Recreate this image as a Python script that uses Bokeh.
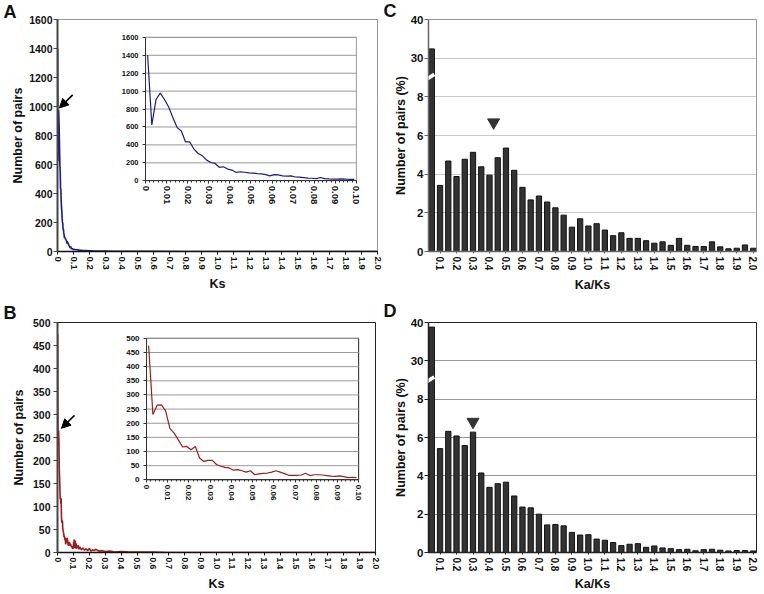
from bokeh.plotting import figure
from bokeh.models import (Range1d, LinearAxis, FixedTicker, NumeralTickFormatter,
                          Arrow, NormalHead, Title)
from bokeh.layouts import column, row
from bokeh.embed import file_html
from bokeh.resources import INLINE

FONT = "Liberation Sans"

# ---------------- data ----------------
# Ks bins (0.002 wide, bin centres) shown in the insets and the start of the main curves
ks_bin_centers = [round(0.001 + 0.002 * i, 3) for i in range(50)]

ksA_counts = [1400, 622, 907, 978, 907, 822, 704, 593, 556, 433,
              433, 352, 304, 278, 230, 204, 193, 150, 156, 130,
              119, 93, 100, 95, 88, 85, 80, 76, 68, 55,
              68, 66, 55, 52, 55, 42, 40, 35, 30, 28,
              24, 36, 24, 20, 18, 19, 20, 17, 15, 15]
ksA_tail_x = [0.11, 0.12, 0.13, 0.14, 0.15, 0.16, 0.18, 0.2, 0.22, 0.25,
              0.3, 0.35, 0.4, 0.5, 0.6, 0.8, 1.0, 1.5, 2.0]
ksA_tail_y = [14, 12, 11, 9, 8, 7, 6, 5, 4, 3,
              3, 2, 2, 1, 1, 0, 0, 0, 0]

ksB_counts = [474, 231, 264, 265, 244, 182, 165, 141, 116, 118,
              106, 118, 77, 65, 69, 69, 54, 48, 44, 42,
              34, 36, 32, 27, 32, 18, 21, 23, 24, 27,
              32, 27, 22, 16, 16, 16, 17, 23, 15, 18,
              18, 17, 15, 13, 12, 14, 11, 8, 9, 8]
ksB_tail_x = [0.101, 0.103, 0.105, 0.107, 0.109, 0.111, 0.113, 0.115, 0.117, 0.119,
              0.121, 0.125, 0.13, 0.135, 0.14, 0.145, 0.15, 0.16, 0.17, 0.18,
              0.19, 0.2, 0.21, 0.22, 0.23, 0.24, 0.26, 0.28, 0.3, 0.33,
              0.36, 0.4, 0.45, 0.5, 0.6, 0.7, 0.8, 1.0, 1.5, 2.0]
ksB_tail_y = [22, 10, 28, 12, 18, 26, 9, 15, 20, 8,
              14, 10, 16, 7, 12, 9, 6, 10, 5, 8,
              4, 9, 3, 6, 4, 7, 3, 4, 2, 3,
              1, 2, 1, 1, 1, 0, 0, 0, 0, 0]

ks_ticks = [0, 0.1, 0.2, 0.3, 0.4, 0.5, 0.6, 0.7, 0.8, 0.9, 1.0,
            1.1, 1.2, 1.3, 1.4, 1.5, 1.6, 1.7, 1.8, 1.9, 2.0]
ks_inset_ticks = [0, 0.01, 0.02, 0.03, 0.04, 0.05, 0.06, 0.07, 0.08, 0.09, 0.1]
ks_inset_minor = [round(0.002 * i, 3) for i in range(51)]
countA_ticks = [0, 200, 400, 600, 800, 1000, 1200, 1400, 1600]
countB_ticks = [0, 50, 100, 150, 200, 250, 300, 350, 400, 450, 500]

# arrows (Ks, count): tail -> tip
arrowA = {"tail": (0.095, 1080), "tip": (0.012, 990)}
arrowB = {"tail": (0.107, 298), "tip": (0.025, 270)}

# Ka/Ks histograms, bins of 0.05
kaks_bins = [round(0.05 * (i + 1), 2) for i in range(40)]
kaksC_pct = [32.4, 3.42, 4.68, 3.88, 4.77, 5.13, 4.38, 3.95, 4.85, 5.35,
             4.2, 3.32, 2.67, 2.87, 2.56, 2.26, 1.88, 1.26, 1.69, 1.32,
             1.44, 1.11, 0.82, 0.97, 0.68, 0.68, 0.56, 0.43, 0.5, 0.32,
             0.68, 0.32, 0.26, 0.26, 0.5, 0.24, 0.14, 0.17, 0.34, 0.17]
kaksD_pct = [38.8, 5.42, 6.32, 6.08, 5.58, 6.28, 4.15, 3.4, 3.59, 3.67,
             2.95, 2.37, 2.33, 2.0, 1.44, 1.46, 1.39, 1.05, 0.91, 0.93,
             0.7, 0.64, 0.52, 0.36, 0.43, 0.46, 0.27, 0.34, 0.24, 0.2,
             0.15, 0.17, 0.09, 0.15, 0.17, 0.12, 0.08, 0.1, 0.1, 0.08]
kaks_ticks = [0.1, 0.2, 0.3, 0.4, 0.5, 0.6, 0.7, 0.8, 0.9, 1.0,
              1.1, 1.2, 1.3, 1.4, 1.5, 1.6, 1.7, 1.8, 1.9, 2.0]
pct_ticks = [0, 2, 4, 6, 8, 30, 40]
kaksC_mark = (0.425, 6.68)
kaksD_mark = (0.30, 6.82)


# ---------------- helpers ----------------
def brk(v):
    """broken y axis: 0..8 linear (2 per step), then 30, 40 (10 per step)"""
    return v / 2.0 if v <= 8 else 5 + (v - 30) / 10.0


def frac_range(lo, hi, f0, f1):
    span = (hi - lo) / (f1 - f0)
    start = lo - f0 * span
    return Range1d(start, start + span)


def style_axis(ax, color, width, tick_size, label_size="12.5px", tick_out=4,
               label_standoff=2, axis_standoff=3):
    ax.axis_line_color = color
    ax.axis_line_width = width
    ax.major_tick_line_color = color
    ax.major_tick_out = tick_out
    ax.major_tick_in = 0
    ax.minor_tick_line_color = None
    ax.major_label_text_font = FONT
    ax.major_label_text_font_style = "bold"
    ax.major_label_text_font_size = tick_size
    ax.major_label_text_color = "#111111"
    ax.axis_label_text_font = FONT
    ax.axis_label_text_font_style = "bold"
    ax.axis_label_text_font_size = label_size
    ax.axis_label_text_color = "#111111"
    ax.major_label_standoff = label_standoff
    ax.axis_label_standoff = axis_standoff


def panel_title(p, letter, dx, standoff):
    t = p.title
    t.text = letter
    t.align = "left"
    t.offset = dx
    t.standoff = standoff
    t.text_font = FONT
    t.text_font_style = "bold"
    t.text_font_size = "18px"
    t.text_color = "#111111"


def x_title(p, text, standoff):
    p.add_layout(Title(text=text, align="center", standoff=standoff, text_font=FONT,
                       text_font_style="bold", text_font_size="12.5px",
                       text_color="#111111"), "below")


def base(width, height, xr, yr, borders, outline):
    p = figure(width=width, height=height, x_range=xr, y_range=yr,
               output_backend="svg", toolbar_location=None,
               min_border_left=borders[0], min_border_right=borders[1],
               min_border_top=borders[2], min_border_bottom=borders[3])
    p.background_fill_color = "white"
    p.border_fill_color = "white"
    p.outline_line_color = outline
    p.outline_line_width = 1
    return p


def ks_panel(letter, counts, tail_x, tail_y, yticks, color, outline, width, height,
             borders, box, arrow, fonts, stand, title_pos):
    ymax = yticks[-1]
    p = base(width, height, Range1d(0, 2.0), Range1d(0, ymax), borders, outline)
    p.grid.visible = False
    xa, ya = p.xaxis[0], p.yaxis[0]
    style_axis(xa, "#111111", 1.5, fonts["x"], tick_out=3, label_standoff=2)
    style_axis(ya, "#444444", 2, fonts["y"], tick_out=4, label_standoff=stand["yl"],
               axis_standoff=stand["y"])
    xa.ticker = FixedTicker(ticks=ks_ticks)
    xa.formatter = NumeralTickFormatter(format="0.0")
    xa.major_label_overrides = {0: "0"}
    xa.major_label_orientation = "vertical"
    ya.ticker = FixedTicker(ticks=yticks)
    ya.axis_label = "Number of pairs"

    p.line(ks_bin_centers + tail_x, counts + tail_y, line_color=color, line_width=1.6)

    # inset drawn on extra ranges placed inside the frame
    p.extra_x_ranges = {"ix": frac_range(0, ks_inset_ticks[-1], box[0], box[1])}
    p.extra_y_ranges = {"iy": frac_range(0, ymax, box[2], box[3])}
    p.quad(left=[ks_inset_ticks[0]], right=[ks_inset_ticks[-1]], bottom=[0], top=[ymax],
           x_range_name="ix", y_range_name="iy",
           fill_color="white", line_color=outline, line_width=1)
    g = yticks[1:]
    p.segment(x0=[ks_inset_ticks[0]] * len(g), x1=[ks_inset_ticks[-1]] * len(g), y0=g, y1=g,
              x_range_name="ix", y_range_name="iy", line_color="#9a9a9a", line_width=1)
    p.line(ks_bin_centers, counts, x_range_name="ix", y_range_name="iy",
           line_color=color, line_width=1.2)

    ix = LinearAxis(x_range_name="ix", y_range_name="iy", fixed_location=0,
                    bounds=(ks_inset_ticks[0], ks_inset_ticks[-1]),
                    ticker=FixedTicker(ticks=ks_inset_ticks, minor_ticks=ks_inset_minor),
                    formatter=NumeralTickFormatter(format="0.00"))
    style_axis(ix, "#333333", 1, fonts["ix"], tick_out=3, label_standoff=2)
    ix.major_label_overrides = {0: "0"}
    ix.major_label_orientation = "vertical"
    ix.minor_tick_line_color = "#333333"
    ix.minor_tick_out = 2
    ix.minor_tick_in = 0
    p.add_layout(ix, "below")
    iy = LinearAxis(x_range_name="ix", y_range_name="iy", fixed_location=0,
                    bounds=(0, ymax), ticker=FixedTicker(ticks=yticks))
    style_axis(iy, "#333333", 1, fonts["iy"], tick_out=3, label_standoff=4)
    p.add_layout(iy, "left")

    p.add_layout(Arrow(end=NormalHead(size=9, fill_color="black", line_color="black"),
                       x_start=arrow["tail"][0], y_start=arrow["tail"][1],
                       x_end=arrow["tip"][0], y_end=arrow["tip"][1],
                       line_color="black", line_width=1.6))
    x_title(p, "Ks", stand["x"])
    panel_title(p, letter, title_pos[0], title_pos[1])
    return p


def kaks_panel(letter, pct, mark, outline, axis_col, grid_col, width, height, borders,
               stand, title_pos):
    xr = Range1d(0.03, 2.02)
    p = base(width, height, xr, Range1d(0, brk(pct_ticks[-1])), borders, outline)
    p.xgrid.visible = False
    p.ygrid.ticker = FixedTicker(ticks=[brk(v) for v in pct_ticks])
    p.ygrid.grid_line_color = grid_col
    p.ygrid.grid_line_width = 1.2
    xa, ya = p.xaxis[0], p.yaxis[0]
    style_axis(xa, axis_col, 1.5, "10px", tick_out=2, label_standoff=3)
    style_axis(ya, axis_col, 1.5, "11.5px", tick_out=4, label_standoff=1, axis_standoff=0)
    xa.ticker = FixedTicker(ticks=kaks_ticks)
    xa.formatter = NumeralTickFormatter(format="0.0")
    xa.major_label_orientation = "vertical"
    ya.ticker = FixedTicker(ticks=[brk(v) for v in pct_ticks])
    ya.major_label_overrides = {brk(v): str(v) for v in pct_ticks}
    ya.axis_label = "Number of pairs (%)"

    p.vbar(x=kaks_bins, top=[brk(v) for v in pct], width=0.032,
           fill_color="#333333", line_color="#111111", line_width=1)
    p.scatter(x=[mark[0]], y=[brk(mark[1])], marker="inverted_triangle", size=12,
              fill_color="#333333", line_color="#333333")

    # axis-break mark between 8 and 30 (placed in the left side panel so it is not clipped)
    yb = (brk(8) + brk(30)) / 2.0
    x0, x1 = xr.start - 0.025, xr.start + 0.035
    for dy, col, lw in [(0, "white", 4), (-0.07, "#444444", 1), (0.07, "#444444", 1)]:
        p.add_layout(Arrow(end=None, x_start=x0, y_start=yb + dy - 0.08,
                           x_end=x1, y_end=yb + dy + 0.08,
                           line_color=col, line_width=lw), "left")
    x_title(p, "Ka/Ks", stand)
    panel_title(p, letter, title_pos[0], title_pos[1])
    return p


pA = ks_panel("A", ksA_counts, ksA_tail_x, ksA_tail_y, countA_ticks, "#1c1c80", "#999999",
              384, 296, (57, 7, 18, 45), (0.275, 0.934, 0.305, 0.923), arrowA,
              {"x": "9.5px", "y": "10.5px", "ix": "9.5px", "iy": "7.5px"},
              {"x": 4, "y": 1, "yl": 1}, (-54, -4))
pB = ks_panel("B", ksB_counts, ksB_tail_x, ksB_tail_y, countB_ticks, "#9c1c1c", "#222222",
              384, 297, (57, 9, 25, 41), (0.28, 0.947, 0.316, 0.931), arrowB,
              {"x": "8.5px", "y": "10.5px", "ix": "8px", "iy": "8px"},
              {"x": 5, "y": 4, "yl": 3}, (-54, 0))
pC = kaks_panel("C", kaksC_pct, kaksC_mark, "#999999", "#666666", "#c8c8c8",
                378, 296, (44, 6, 19, 43), 4, (-45, -3))
pD = kaks_panel("D", kaksD_pct, kaksD_mark, "#222222", "#222222", "#999999",
                378, 297, (44, 6, 26, 38), 0, (-45, 4))

layout = column(row(pA, pC), row(pB, pD))
open("out.html", "w").write(file_html(layout, INLINE))
